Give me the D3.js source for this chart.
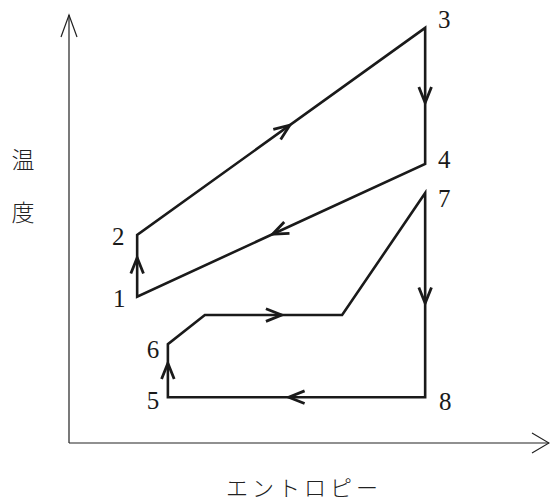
<!DOCTYPE html>
<html>
<head>
<meta charset="utf-8">
<script src="https://cdn.jsdelivr.net/npm/d3@7"></script>
<style>
    body { margin: 0; background: #fff; }
    svg { display: block; }
</style>
</head>
<body>
<div id="chart"></div>
<script>
    // state points (entropy, temperature) in arbitrary units
    const stateNames = ["1", "2", "3", "4", "5", "6", "7", "8"];
    const entropy = [14.2, 14.2, 74.2, 74.2, 20.6, 20.6, 74.2, 74.2];
    const temperature = [34.2, 48.6, 97.0, 65.2, 10.7, 23.1, 58.4, 10.7];

    // bends on path 6 -> 7
    const bendEntropy = [28.3, 56.9];
    const bendTemperature = [29.9, 29.9];

    // cycle order
    const cycleA = ["1", "2", "3", "4"];
    const cycleB = ["5", "6", "b1", "b2", "7", "8"];

    // direction arrows: segment [from, to] and position along it
    const arrowSegs = [
        ["1", "2", 0.63], ["2", "3", 0.53], ["3", "4", 0.55], ["4", "1", 0.53],
        ["5", "6", 0.64], ["b1", "b2", 0.56], ["7", "8", 0.54], ["8", "5", 0.53]
    ];

    const yTitle = ["温", "度"];
    const xTitle = "エントロピー";

    const width = 550, height = 504;

    const pts = {};
    stateNames.forEach((n, i) => pts[n] = {s: entropy[i], t: temperature[i]});
    bendEntropy.forEach((s, i) => pts["b" + (i + 1)] = {s, t: bendTemperature[i]});

    const x = d3.scaleLinear().domain([0, 100]).range([69, 549]);
    const y = d3.scaleLinear().domain([0, 100]).range([443, 15]);

    const svg = d3.select("#chart")
        .append("svg")
        .attr("width", width)
        .attr("height", height);

    // axes
    const ax = svg.append("g")
        .attr("stroke", "#222")
        .attr("stroke-width", 1.2)
        .attr("fill", "none");
    ax.append("path")
        .attr("d", `M${x(0)},${y(0)} L${x(0)},${y(100)} M${x(0)},${y(0)} L${x(100)},${y(0)}`);
    ax.append("path")
        .attr("d", `M${x(0) - 8},${y(100) + 22} L${x(0)},${y(100)} L${x(0) + 8},${y(100) + 22}`);
    ax.append("path")
        .attr("d", `M${x(100) - 17},${y(0) - 10} L${x(100)},${y(0)} L${x(100) - 17},${y(0) + 10}`);

    const line = d3.line()
        .x(d => x(pts[d].s))
        .y(d => y(pts[d].t));

    const g = svg.append("g")
        .attr("stroke", "#1a1a1a")
        .attr("stroke-width", 2.6)
        .attr("fill", "none")
        .attr("stroke-linejoin", "miter");

    g.append("path").attr("d", line(cycleA) + "Z");
    g.append("path").attr("d", line(cycleB) + "Z");

    // chevron arrows
    arrowSegs.forEach(([a, b, f]) => {
        const x0 = x(pts[a].s), y0 = y(pts[a].t);
        const x1 = x(pts[b].s), y1 = y(pts[b].t);
        const tx = x0 + (x1 - x0) * f, ty = y0 + (y1 - y0) * f;
        const ang = Math.atan2(y1 - y0, x1 - x0);
        const len = 17, spread = 0.38;
        const p1 = [tx - len * Math.cos(ang - spread), ty - len * Math.sin(ang - spread)];
        const p2 = [tx - len * Math.cos(ang + spread), ty - len * Math.sin(ang + spread)];
        g.append("path")
            .attr("d", `M${p1[0]},${p1[1]} L${tx},${ty} L${p2[0]},${p2[1]}`)
            .attr("stroke-width", 2.8);
    });

    // state labels
    const offsets = {
        "1": [-18, 10], "2": [-19, 10], "3": [19, 0], "4": [19, 4],
        "5": [-15, 12], "6": [-15, 14], "7": [19, 14], "8": [20, 13]
    };
    svg.append("g")
        .selectAll("text")
        .data(stateNames)
        .join("text")
        .attr("x", d => x(pts[d].s) + offsets[d][0])
        .attr("y", d => y(pts[d].t) + offsets[d][1])
        .attr("text-anchor", "middle")
        .attr("font-family", "'Liberation Serif', 'DejaVu Serif', serif")
        .attr("font-size", 25)
        .attr("fill", "#1a1a1a")
        .text(d => d);

    // axis titles
    svg.append("g")
        .selectAll("text")
        .data(yTitle)
        .join("text")
        .attr("x", 23)
        .attr("y", (d, i) => 168 + i * 53)
        .attr("text-anchor", "middle")
        .attr("font-family", "'Noto Sans CJK JP', sans-serif")
        .attr("font-weight", 300)
        .attr("font-size", 23)
        .attr("fill", "#222")
        .text(d => d);

    svg.append("text")
        .attr("x", 304)
        .attr("y", 496)
        .attr("text-anchor", "middle")
        .attr("font-family", "'Noto Sans CJK JP', sans-serif")
        .attr("font-weight", 300)
        .attr("font-size", 22)
        .attr("letter-spacing", 4)
        .attr("fill", "#222")
        .text(xTitle);
</script>
</body>
</html>
